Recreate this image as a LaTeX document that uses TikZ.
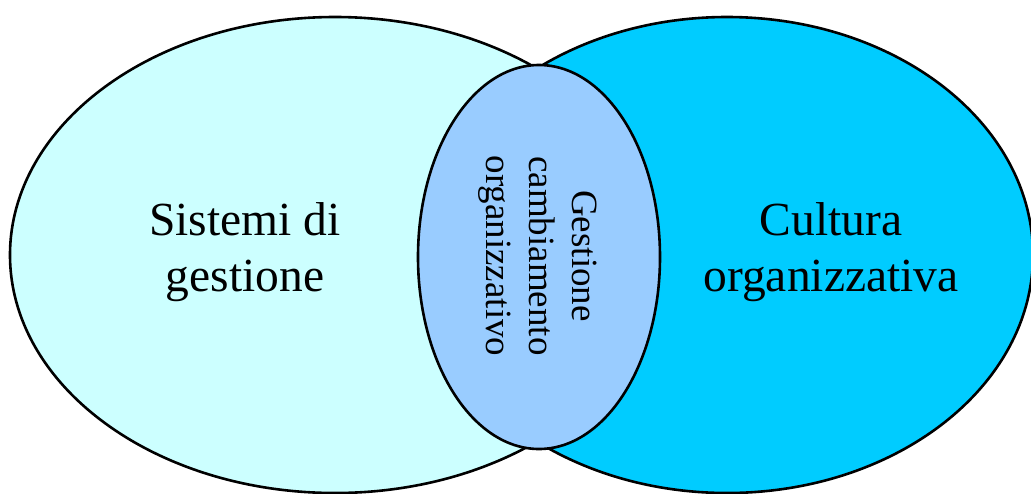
\documentclass[tikz,border=0pt]{standalone}
\usepackage{fontspec}
\setmainfont{Liberation Serif}
\definecolor{leftfill}{HTML}{CCFFFF}
\definecolor{rightfill}{HTML}{00CCFF}
\definecolor{midfill}{HTML}{99CCFF}
\begin{document}
\begin{tikzpicture}[x=1pt,y=-1pt,
  blob/.style={draw=black,line width=2.6pt},
  bigtext/.style={align=center,font=\fontsize{47.5}{56}\selectfont},
  midtext/.style={align=center,font=\fontsize{37}{43}\selectfont,rotate=-90}]
\useasboundingbox (0,0) rectangle (1031,493);
\path[blob,fill=leftfill] (335,255) ellipse [x radius=325,y radius=238];
\path[blob,fill=rightfill] (727,255) ellipse [x radius=306,y radius=238];
\path[blob,fill=midfill] (539,257) ellipse [x radius=121,y radius=192];
\node[bigtext] (sg) at (245,252) {Sistemi di\\gestione};
\node[bigtext] (co) at (831,252) {Cultura\\organizzativa};
\node[midtext] (gc) at (538,256) {Gestione\\cambiamento\\organizzativo};
\end{tikzpicture}
\end{document}
